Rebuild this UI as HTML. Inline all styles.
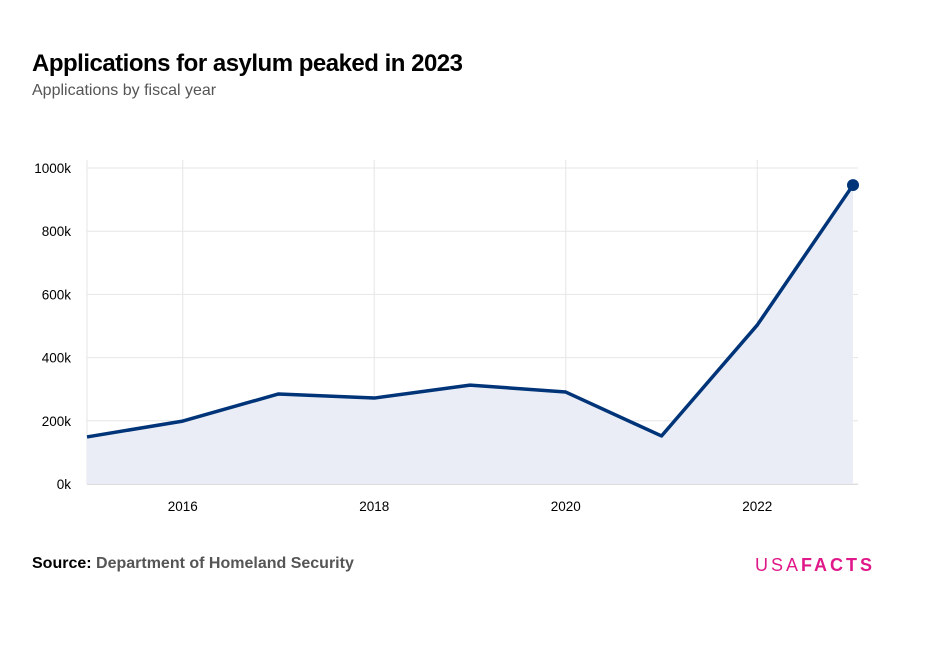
<!DOCTYPE html>
<html><head><meta charset="utf-8"><style>
body{margin:0;width:929px;height:661px;background:#fff;font-family:"Liberation Sans",sans-serif;position:relative;overflow:hidden}
.t{position:absolute;left:32px;top:50px;font-size:24px;font-weight:bold;color:#000;letter-spacing:-0.5px}
.s{position:absolute;left:32px;top:82px;font-size:16px;color:#555}
.src{position:absolute;left:32px;top:555px;font-size:16px;font-weight:bold;color:#000}
.src span{color:#555}
.logo{position:absolute;left:755px;top:555px;font-size:18px;color:#e0198a;letter-spacing:3px}
</style></head><body>
<div class="t">Applications for asylum peaked in 2023</div>
<div class="s">Applications by fiscal year</div>
<svg id="c" width="929" height="661" style="position:absolute;left:0;top:0"></svg>
<div class="src">Source: <span>Department of Homeland Security</span></div>
<div class="logo">USA<b>FACTS</b></div>
<script>
const years=[2015,2016,2017,2018,2019,2020,2021,2022,2023];
const values=[149,199,285,272,313,291,152,503,946];
const yTicks=[0,200,400,600,800,1000];
const xTicks=[2016,2018,2020,2022];
const svg=document.getElementById('c');const ns='http://www.w3.org/2000/svg';
const x=v=>87+(v-2015)*(853-87)/8;
const y=v=>484-v*316/1000;
function mk(t,a,p){const e=document.createElementNS(ns,t);for(const k in a)e.setAttribute(k,a[k]);(p||svg).appendChild(e);return e;}
yTicks.forEach(v=>{
const l=mk('line',{x1:87,x2:858,y1:y(v),y2:y(v),stroke:'#e6e6e6'});


const t=mk('text',{x:71,y:y(v)+5,'text-anchor':'end','font-size':13.5,fill:'#000','font-family':'Liberation Sans'});t.textContent=v+'k';


});
xTicks.forEach(v=>{
const l=mk('line',{x1:x(v),x2:x(v),y1:160,y2:484,stroke:'#e6e6e6'});


const t=mk('text',{x:x(v),y:511,'text-anchor':'middle','font-size':13.5,fill:'#000','font-family':'Liberation Sans'});t.textContent=v;


});
mk('line',{x1:87,x2:87,y1:160,y2:484,stroke:'#e6e6e6'});
const pts=years.map((yr,i)=>x(yr)+','+y(values[i])).join(' ');
const a=mk('polygon',{points:x(2015)+','+y(0)+' '+pts+' '+x(2023)+','+y(0),fill:'#eaedf5'});


const ln=mk('polyline',{points:pts,fill:'none',stroke:'#003479','stroke-width':3.5,'stroke-linejoin':'round'});


const d=mk('circle',{cx:x(2023),cy:y(values[8]),r:6,fill:'#003479'});


mk('line',{x1:87,x2:858,y1:484.5,y2:484.5,stroke:'#ddd'});
</script>
</body></html>
